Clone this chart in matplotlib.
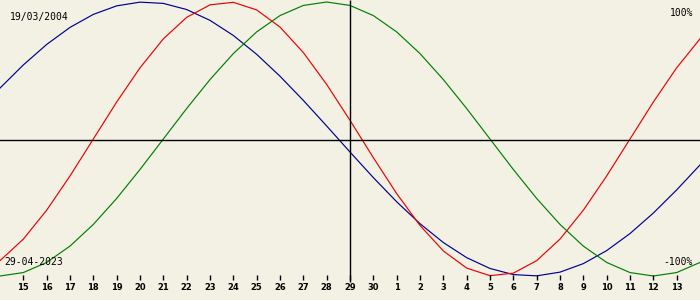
import matplotlib
matplotlib.use("Agg")
import matplotlib.pyplot as plt
import matplotlib.transforms as mtransforms

# Day offsets relative to the selected date (29-04-2023)
day_offsets = list(range(-15, 16))

# Biorhythm values (fraction of 100%)
physical = [-0.8879, -0.7308, -0.5196, -0.2698, 0.0, 0.2698, 0.5196, 0.7308,
            0.8879, 0.9791, 0.9977, 0.9423, 0.8170, 0.6311, 0.3984, 0.1362,
            -0.1362, -0.3984, -0.6311, -0.8170, -0.9423, -0.9977, -0.9791,
            -0.8879, -0.7308, -0.5196, -0.2698, 0.0, 0.2698, 0.5196, 0.7308]
emotional = [-1.0, -0.9749, -0.9010, -0.7818, -0.6235, -0.4339, -0.2225, 0.0,
             0.2225, 0.4339, 0.6235, 0.7818, 0.9010, 0.9749, 1.0, 0.9749,
             0.9010, 0.7818, 0.6235, 0.4339, 0.2225, 0.0, -0.2225, -0.4339,
             -0.6235, -0.7818, -0.9010, -0.9749, -1.0, -0.9749, -0.9010]
intellectual = [0.3717, 0.5406, 0.6901, 0.8146, 0.9096, 0.9718, 0.9989, 0.9898,
                0.9450, 0.8660, 0.7557, 0.6182, 0.4582, 0.2817, 0.0951, -0.0951,
                -0.2817, -0.4582, -0.6182, -0.7557, -0.8660, -0.9450, -0.9898,
                -0.9989, -0.9718, -0.9096, -0.8146, -0.6901, -0.5406, -0.3717,
                -0.1893]

tick_offsets = list(range(-14, 15))
tick_labels = ["15", "16", "17", "18", "19", "20", "21", "22", "23", "24", "25",
               "26", "27", "28", "29", "30", "1", "2", "3", "4", "5", "6", "7",
               "8", "9", "10", "11", "12", "13"]

birth_label = "19/03/2004"
date_label = "29-04-2023"
top_label = "100%"
bottom_label = "-100%"

BG = "#f3f0e4"
W, H = 700, 300
MONO = "DejaVu Sans Mono"

fig = plt.figure(figsize=(7, 3), dpi=100, facecolor=BG)
ax = fig.add_axes([0, 0, 1, 1])
ax.set_facecolor(BG)
ax.set_xlim(-15, 15)
# pixel y = 139 - 137*v
ax.set_ylim((139 - H) / 137.0, 139 / 137.0)
ax.axis("off")

ax.plot(day_offsets, intellectual, color="#000090", lw=0.85)
ax.plot(day_offsets, physical, color="#ee0000", lw=0.85)
ax.plot(day_offsets, emotional, color="#008000", lw=0.85)

ax.axhline(-1 / 137.0, color="black", lw=1.0)

trans = mtransforms.blended_transform_factory(ax.transData, ax.transAxes)
ax.vlines([0], 1 - 282 / H, 1, transform=trans, color="black", lw=1.0)
ax.vlines(tick_offsets, 1 - 280 / H, 1 - 275 / H, transform=trans,
          color="black", lw=1.0)
for d, lab in zip(tick_offsets, tick_labels):
    ax.text(d, 1 - 288 / H, lab, transform=trans, ha="center", va="center",
            fontsize=6, fontweight="bold", color="black")

fig.text(10 / W, 1 - 17 / H, birth_label, ha="left", va="center",
         fontsize=7, family=MONO)
fig.text(693 / W, 1 - 13 / H, top_label, ha="right", va="center",
         fontsize=7, family=MONO)
fig.text(4 / W, 1 - 262 / H, date_label, ha="left", va="center",
         fontsize=7, family=MONO)
fig.text(693 / W, 1 - 262 / H, bottom_label, ha="right", va="center",
         fontsize=7, family=MONO)

fig.savefig("out.png", dpi=100, facecolor=BG)
